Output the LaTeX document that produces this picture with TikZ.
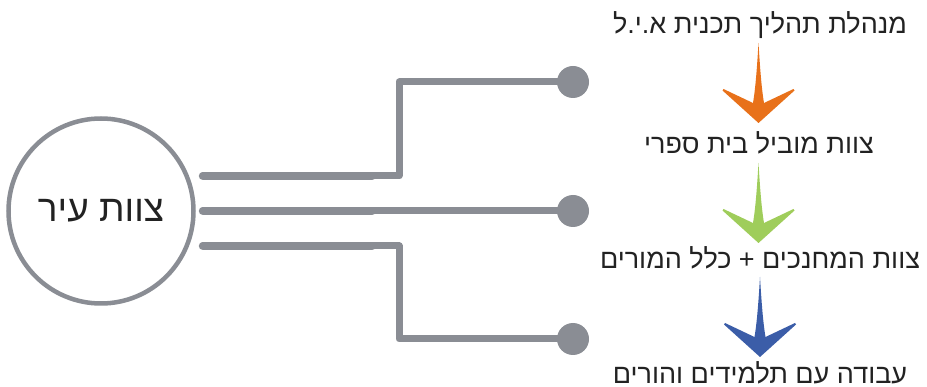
\documentclass[tikz,border=0pt]{standalone}
\usepackage{fontspec}
\TeXXeTstate=1
\newfontfamily\hebfont[Script=Hebrew]{Liberation Sans}
\definecolor{linegray}{HTML}{8A8D94}
\definecolor{txtgray}{HTML}{222222}
\definecolor{arrorange}{HTML}{E8711A}
\definecolor{arrgreen}{HTML}{9FCD5B}
\definecolor{arrblue}{HTML}{3B5DA8}
\tikzset{
  conn/.style={draw=linegray,line width=7pt,line cap=round,line join=round},
  connthick/.style={draw=linegray,line width=8.5pt,line cap=round},
  enddot/.style={circle,fill=linegray,minimum size=32pt,inner sep=0pt},
  label/.style={font=\hebfont\fontsize{27}{30}\selectfont,text=txtgray,inner sep=0pt},
  chev/.pic={
    \fill (0,0) .. controls (1.5,25) and (3,45) .. (5.5,60) -- (35,46) -- (36,47.5) -- (0,80)
      -- (-36,47.5) -- (-35,46) -- (-5.5,60) .. controls (-3,45) and (-1.5,25) .. (0,0) -- cycle;
  }
}
\begin{document}
\begin{tikzpicture}[x=1pt,y=-1pt]
\useasboundingbox (0,0) rectangle (927,387);
% central circle
\node[circle,draw=linegray,line width=4.5pt,minimum size=185pt,inner sep=0pt,
      font=\hebfont\fontsize{37}{40}\selectfont,text=txtgray] (city) at (101,211) {\beginR צוות עיר\endR};
% end dots
\node[enddot] (d1) at (573,82) {};
\node[enddot] (d2) at (573,211) {};
\node[enddot] (d3) at (573,339) {};
% connectors
\coordinate (s1) at (203,176);
\coordinate (s2) at (203,211);
\coordinate (s3) at (203,246);
\draw[conn] (s1) -- (399,176) -- (399,82) -- (d1.center);
\draw[conn] (s2) -- (d2.center);
\draw[conn] (s3) -- (399,246) -- (399,339) -- (d3.center);
\draw[connthick] (s1) -- (372,176);
\draw[connthick] (s2) -- (372,211);
\draw[connthick] (s3) -- (372,246);
% labels
\node[label] (t1) at (760,25) {\beginR מנהלת תהליך תכנית א.י.ל\endR};
\node[label] (t2) at (759,143) {\beginR צוות מוביל בית ספרי\endR};
\node[label] (t3) at (760,258) {\beginR צוות המחנכים + כלל המורים\endR};
\node[label] (t4) at (760,373) {\beginR עבודה עם תלמידים והורים\endR};
% arrows
\pic[fill=arrorange] at (758.5,43) {chev};
\pic[fill=arrgreen] at (758.5,163) {chev};
\pic[fill=arrblue] at (760,277) {chev};
\end{tikzpicture}
\end{document}
